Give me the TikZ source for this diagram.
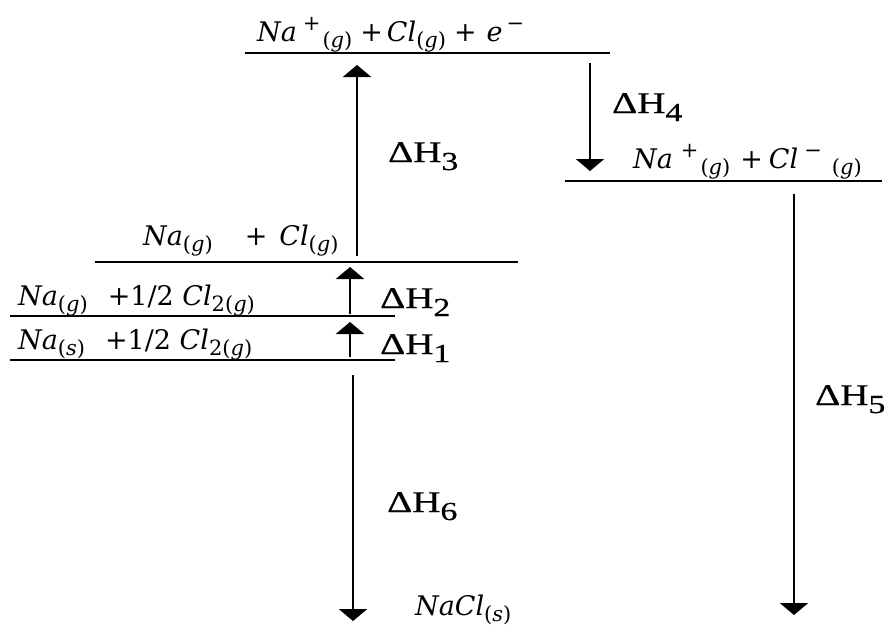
\documentclass[tikz,border=0pt]{standalone}
\usepackage{fontspec}
\newfontfamily\dhfont[FakeStretch=1.3,FakeBold=0.6]{Liberation Serif}
\newfontfamily\chemfont{DejaVu Serif}
\usetikzlibrary{arrows.meta}
\newcommand{\dH}[1]{{\dhfont\fontsize{30}{30}\selectfont ΔH\raisebox{-8pt}{\fontsize{26}{26}\selectfont #1}}}
\newcommand{\csub}[1]{\raisebox{-6pt}{\fontsize{21}{21}\selectfont #1}}
\newcommand{\csup}[1]{\raisebox{11pt}{\fontsize{21}{21}\selectfont #1}}
\newcommand{\gs}{\csub{(\textit{g})}}
\begin{document}
\begin{tikzpicture}[x=1pt,y=-1pt,
  level/.style={line width=2.8pt},
  arr/.style={line width=2.6pt,-{Triangle[width=28pt,length=12pt]}},
  dh/.style={anchor=base west,inner sep=0pt},
  chem/.style={anchor=base west,inner sep=0pt,font=\chemfont\fontsize{27}{27}\selectfont}]
\useasboundingbox (0,0) rectangle (891,629);
% levels
\coordinate (A1) at (245,53);  \coordinate (A2) at (610,53);
\coordinate (B1) at (565,181); \coordinate (B2) at (882,181);
\coordinate (C1) at (95,262);  \coordinate (C2) at (518,262);
\coordinate (D1) at (10,316);  \coordinate (D2) at (395,316);
\coordinate (E1) at (10,360);  \coordinate (E2) at (395,360);
\draw[level] (A1) -- (A2);
\draw[level] (B1) -- (B2);
\draw[level] (C1) -- (C2);
\draw[level] (D1) -- (D2);
\draw[level] (E1) -- (E2);
% texts
\node[chem] (tA) at (257,41) {\textit{Na}\hspace{6pt}\csup{+}\hspace{2pt}\gs\hspace{8pt}+\hspace{4pt}\textit{Cl}\gs\hspace{8pt}+\hspace{10pt}\textit{e}\hspace{4pt}\csup{−}};
\node[chem] (tB) at (633,168) {\textit{Na}\hspace{8pt}\csup{+}\hspace{2pt}\gs\hspace{10pt}+\hspace{6pt}\textit{Cl}\hspace{6pt}\csup{−}\hspace{10pt}\gs};
\node[chem] (tC) at (143,245) {\textit{Na}\gs\hspace{32pt}+\hspace{12pt}\textit{Cl}\gs};
\node[chem] (tD) at (18,305) {\textit{Na}\gs\hspace{20pt}+1/2 \textit{Cl}\csub{2(\textit{g})}};
\node[chem] (tE) at (18,349) {\textit{Na}\csub{(\textit{s})}\hspace{20pt}+1/2 \textit{Cl}\csub{2(\textit{g})}};
\node[chem] (tF) at (415,615) {\textit{NaCl}\csub{(\textit{s})}};
% arrows
\coordinate (h3s) at (357,256); \coordinate (h3e) at (357,65);
\coordinate (h4s) at (590,63);  \coordinate (h4e) at (590,171);
\coordinate (h5s) at (794,194); \coordinate (h5e) at (794,615);
\coordinate (h2s) at (350,314); \coordinate (h2e) at (350,267);
\coordinate (h1s) at (350,357); \coordinate (h1e) at (350,322);
\coordinate (h6s) at (353,375); \coordinate (h6e) at (353,621);
\draw[arr] (h3s) -- (h3e);
\draw[arr] (h4s) -- (h4e);
\draw[arr] (h5s) -- (h5e);
\draw[arr] (h2s) -- (h2e);
\draw[arr] (h1s) -- (h1e);
\draw[arr] (h6s) -- (h6e);
% labels
\node[dh] (l3) at (388,162) {\dH{3}};
\node[dh] (l4) at (612,113) {\dH{4}};
\node[dh] (l5) at (815,405) {\dH{5}};
\node[dh] (l2) at (380,308) {\dH{2}};
\node[dh] (l1) at (380,354) {\dH{1}};
\node[dh] (l6) at (387,512) {\dH{6}};
\end{tikzpicture}
\end{document}
